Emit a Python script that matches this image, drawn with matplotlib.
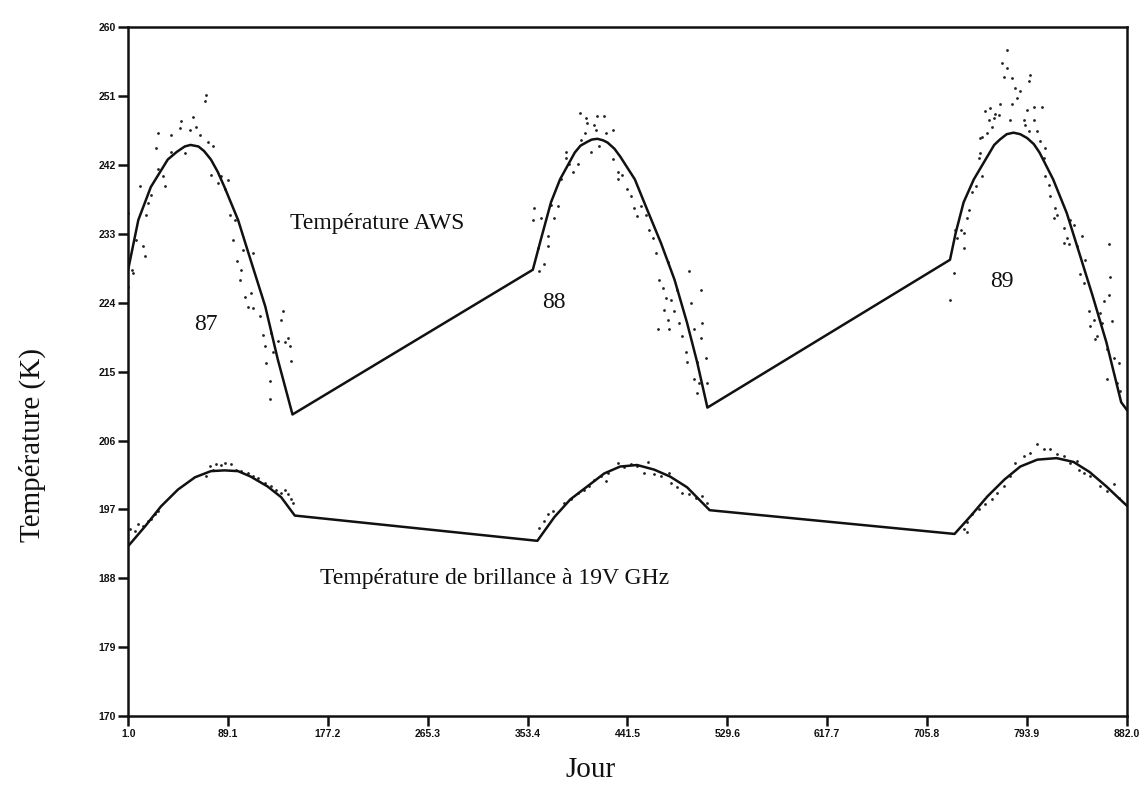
import matplotlib
matplotlib.use("Agg")
import matplotlib.pyplot as plt

# --- data ---
x_ticks = [1.0, 89.1, 177.2, 265.3, 353.4, 441.5, 529.6, 617.7, 705.8, 793.9, 882.0]
y_ticks = [170, 179, 188, 197, 206, 215, 224, 233, 242, 251, 260]

# fitted AWS air temperature (three seasons joined by straight segments)
aws_fit_day = [1, 10, 21, 36, 44, 51, 56, 63, 68, 74, 80, 86, 98, 109, 122, 133, 146,
               358, 365, 374, 382, 395, 400, 406, 410, 415, 420, 424, 430, 435, 448, 459, 471, 483, 494, 503, 512,
               726, 731, 738, 747, 759, 765, 770, 776, 782, 788, 794, 800, 805, 817, 829, 840, 852, 864, 877, 882]
aws_fit_temp = [228.3, 234.8, 239.1, 242.7, 243.7, 244.4, 244.6, 244.4, 243.8, 242.7, 241.1, 239.1, 234.8, 229.6,
                223.5, 216.6, 209.4,
                228.3, 232.2, 237.1, 240.1, 243.6, 244.5, 245.0, 245.3, 245.4, 245.2, 244.9, 244.1, 243.1, 240.1,
                236.1, 231.8, 227.0, 221.4, 216.2, 210.3,
                229.6, 233.1, 237.1, 240.1, 243.1, 244.6, 245.3, 246.0, 246.2, 246.0, 245.5, 244.7, 243.6, 240.1,
                235.7, 230.5, 224.8, 218.8, 211.0, 210.0]

# fitted 19V GHz brightness temperature
tb_fit_day = [1, 16, 30, 45, 60, 74, 86, 98, 109, 124, 136, 148,
              362, 377, 391, 406, 421, 435, 450, 465, 479, 494, 514,
              730, 744, 759, 774, 788, 803, 820, 835, 849, 864, 879, 882]
tb_fit_temp = [192.2, 194.8, 197.4, 199.6, 201.2, 202.0, 202.1, 202.0, 201.3, 200.0, 198.6, 196.2,
               192.9, 196.0, 198.3, 200.0, 201.7, 202.6, 202.8, 202.2, 201.3, 199.9, 196.9,
               193.8, 196.1, 198.7, 200.9, 202.6, 203.5, 203.7, 203.2, 201.9, 200.0, 197.9, 197.5]

# daily AWS observations
aws_obs_day = [70.0, 69.1, 58.3, 48.0, 27.4, 39.2, 46.5, 55.3, 61.2, 64.1, 71.5, 75.9, 26.0, 39.2, 50.9,
               27.4, 31.8, 33.3, 11.3, 21.6, 18.6, 1.0, 17.2, 8.3, 14.2, 15.7, 4.0, 5.4, 1.0, 74.4,
               83.2, 80.3, 89.1, 86.2, 90.6, 95.0, 93.5, 102.3, 111.1, 97.3, 100.9, 99.4, 103.8, 109.7, 106.7,
               111.1, 117.0, 120.0, 121.4, 127.3, 133.2, 136.1, 137.6, 142.0, 143.4, 144.9, 122.9, 125.8, 125.8,
               139.0, 128.8,
               399.8, 404.8, 414.5, 420.4, 405.7, 412.2, 404.0, 413.6, 422.4, 428.3, 400.4, 416.6, 409.2, 387.2,
               387.2, 390.1, 397.5, 393.1, 428.3, 432.7, 437.1, 432.7, 441.5, 444.5, 447.4, 453.3, 449.8, 457.7,
               382.8, 379.9, 376.9, 374.0, 359.3, 357.8, 365.2, 371.1, 371.1, 362.2, 368.1, 363.7, 460.6, 463.6,
               466.5, 476.8, 469.4, 472.4, 485.6, 475.3, 479.7, 473.8, 482.6, 476.8, 487.1, 468.0, 478.2, 490.0,
               497.3, 495.9, 506.1, 507.6, 500.3, 506.1, 492.9, 494.4, 503.2, 510.6, 512.0, 503.2, 500.3, 504.7,
               776.4, 772.0, 776.4, 773.4, 780.8, 796.9, 795.5, 783.7, 788.1, 785.2, 780.8, 770.5, 761.7, 757.3,
               766.1, 769.0, 764.6, 760.2, 763.2, 794.0, 799.9, 807.2, 799.9, 791.1, 792.5, 795.5, 779.3, 758.8,
               754.3, 752.9, 802.8, 805.7, 810.1, 752.9, 751.4, 754.3, 808.7, 810.1, 813.1, 814.6, 819.0, 820.5,
               817.5, 745.5, 748.5, 742.6, 741.1, 735.3, 738.2, 730.8, 732.3, 738.2, 729.4, 726.4, 826.3, 832.2,
               835.1, 829.2, 826.3, 830.7, 842.4, 838.0, 845.4, 841.0, 843.9, 866.0, 867.4, 866.0, 861.5, 868.9,
               848.3, 852.7, 849.8, 858.6, 855.7, 854.2, 860.1, 864.5, 870.4, 864.5, 873.3, 874.8, 876.2]
aws_obs_temp = [251.1, 250.4, 248.2, 247.7, 246.1, 245.9, 246.8, 246.6, 247.0, 245.9, 245.0, 244.5, 244.2, 243.7, 243.5,
                241.4, 240.5, 239.2, 239.3, 238.1, 237.0, 235.7, 235.5, 232.2, 231.4, 230.1, 228.3, 227.9, 226.1, 240.7,
                240.5, 239.6, 240.0, 238.8, 235.5, 234.8, 232.2, 230.9, 230.5, 229.5, 228.3, 227.0, 224.8, 225.3, 223.5,
                223.3, 222.2, 219.8, 218.3, 220.1, 219.0, 221.8, 222.9, 219.4, 218.3, 216.4, 216.1, 213.8, 211.4,
                218.8, 217.5,
                248.8, 248.1, 248.4, 248.4, 247.4, 247.2, 246.2, 246.6, 246.2, 246.6, 245.3, 244.5, 243.7, 243.7,
                242.9, 242.1, 242.1, 241.1, 242.7, 241.1, 240.7, 240.1, 238.8, 237.9, 236.4, 236.6, 235.3, 235.5,
                240.1, 236.6, 235.1, 236.8, 236.4, 234.8, 235.1, 232.7, 231.4, 231.1, 229.0, 228.1, 233.5, 232.5,
                230.5, 229.3, 227.0, 225.9, 225.7, 224.6, 224.4, 223.1, 222.9, 221.8, 221.4, 220.5, 220.5, 219.6,
                224.0, 228.1, 225.7, 221.4, 220.5, 219.4, 217.5, 216.2, 216.2, 216.8, 213.5, 212.2, 214.0, 213.5,
                257.0, 255.3, 254.6, 253.5, 253.3, 253.7, 252.9, 252.0, 251.6, 250.7, 250.0, 250.0, 249.4, 249.0,
                248.7, 248.5, 248.1, 247.9, 247.0, 249.2, 249.6, 249.6, 247.9, 247.9, 247.2, 246.4, 247.9, 246.1,
                245.7, 245.5, 246.4, 245.1, 244.2, 243.5, 242.9, 240.5, 242.9, 240.5, 239.4, 237.9, 236.4, 235.5,
                235.1, 238.5, 239.2, 236.1, 235.0, 233.5, 233.1, 233.5, 232.4, 231.2, 227.9, 224.3, 233.7, 234.8,
                234.2, 232.4, 231.8, 231.6, 232.7, 231.4, 229.6, 227.7, 226.6, 231.6, 227.4, 225.0, 224.2, 221.6,
                222.9, 221.8, 220.9, 222.7, 219.6, 219.2, 221.4, 217.9, 216.8, 214.0, 213.5, 216.1, 212.5]

# daily 19V GHz observations
tb_obs_day = [2.5, 6.9, 9.8, 14.2, 18.6, 21.6, 24.5, 27.4, 73.0, 75.9, 78.8, 83.2, 86.2, 92.0, 96.4,
              100.9, 106.7, 111.1, 115.5, 121.4, 127.3, 131.7, 136.1, 139.0, 142.0, 144.9, 146.4, 70.0,
              363.7, 368.1, 371.1, 375.5, 385.7, 391.6, 397.5, 403.4, 407.8, 412.2, 418.0, 423.9, 432.7, 438.6,
              444.5, 450.3, 459.2, 456.2, 465.0, 470.9, 478.2, 479.7, 485.6, 490.0, 495.9, 501.7, 507.6, 512.0, 422.4,
              738.1, 741.1, 745.5, 751.4, 757.2, 763.1, 767.5, 773.4, 779.3, 783.7, 791.0, 796.9, 802.8, 808.6,
              814.5, 820.4, 826.2, 832.1, 838.0, 839.5, 843.9, 849.7, 858.5, 864.4, 870.3, 874.7, 741.1]
tb_obs_temp = [194.4, 194.2, 195.1, 194.9, 195.5, 195.7, 196.4, 196.8, 202.7, 202.2, 202.9, 202.8, 203.0, 202.9, 202.2,
               202.0, 201.8, 201.4, 201.1, 200.5, 200.1, 199.6, 199.2, 199.6, 199.0, 198.3, 197.9, 201.4,
               194.6, 195.5, 196.4, 196.8, 197.9, 198.3, 199.2, 199.6, 200.1, 200.9, 201.4, 201.8, 203.0, 202.5,
               202.9, 202.7, 203.2, 201.8, 201.6, 201.4, 201.8, 200.5, 199.9, 199.2, 199.0, 198.5, 198.8, 197.9, 200.7,
               194.4, 195.3, 196.4, 197.0, 197.7, 198.3, 199.2, 200.1, 201.4, 203.1, 204.0, 204.4, 205.5, 204.9,
               204.9, 204.2, 204.0, 203.1, 203.3, 202.2, 201.8, 201.4, 200.1, 199.4, 200.3, 198.5, 194.0]

serif = ["Liberation Serif", "DejaVu Serif"]
ink = "#111111"

fig = plt.figure(figsize=(11.44, 7.94), dpi=100)
ax = fig.add_axes([0.112, 0.098, 0.873, 0.868])

ax.plot(aws_obs_day, aws_obs_temp, "o", color="#222222", ms=2.0, mew=0)
ax.plot(tb_obs_day, tb_obs_temp, "o", color="#222222", ms=2.0, mew=0)
ax.plot(aws_fit_day, aws_fit_temp, color=ink, lw=1.8, solid_joinstyle="round")
ax.plot(tb_fit_day, tb_fit_temp, color=ink, lw=1.8, solid_joinstyle="round")

ax.set_xlim(1, 882)
ax.set_ylim(170, 260)
ax.set_xticks(x_ticks)
ax.set_xticklabels([f"{v:.1f}" for v in x_ticks])
ax.set_yticks(y_ticks)
ax.set_yticklabels([str(v) for v in y_ticks])
ax.tick_params(direction="out", length=7, width=1.8, pad=2, color=ink)
for lab in ax.get_xticklabels() + ax.get_yticklabels():
    lab.set_family("Liberation Sans")
    lab.set_fontweight("bold")
    lab.set_fontsize(7.5)
    lab.set_color(ink)
for spine in ax.spines.values():
    spine.set_linewidth(1.8)
    spine.set_color(ink)

# annotations
ax.text(221, 234.4, "Température AWS", family=serif, fontsize=17, ha="center", va="center", color=ink)
ax.text(70, 221.1, "87", family=serif, fontsize=17, ha="center", va="center", color=ink)
ax.text(377, 224.0, "88", family=serif, fontsize=17, ha="center", va="center", color=ink)
ax.text(772, 226.8, "89", family=serif, fontsize=17, ha="center", va="center", color=ink)
ax.text(324, 188.0, "Température de brillance à 19V GHz", family=serif, fontsize=17,
        ha="center", va="center", color=ink)

fig.text(0.028, 0.44, "Température (K)", family=serif, fontsize=21, rotation=90,
         ha="center", va="center", color=ink)
fig.text(0.516, 0.03, "Jour", family=serif, fontsize=21, ha="center", va="center", color=ink)

fig.savefig("out.png", dpi=100, facecolor="white")
